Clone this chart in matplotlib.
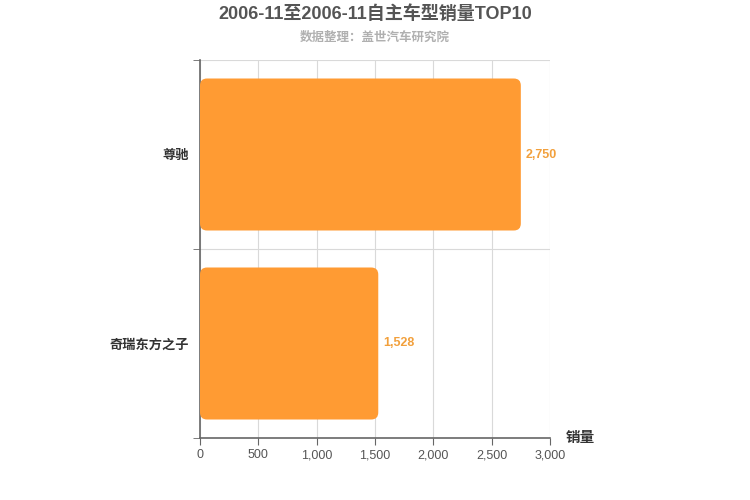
import matplotlib
matplotlib.use('Agg')
import matplotlib.pyplot as plt
from matplotlib.patches import FancyBboxPatch

# data (bottom to top)
models = ['奇瑞东方之子', '尊驰']
sales = [1528, 2750]
x_ticks = [0, 500, 1000, 1500, 2000, 2500, 3000]

title = '2006-11至2006-11自主车型销量TOP10'
subtitle = '数据整理：盖世汽车研究院'

plt.rcParams['font.family'] = ['Liberation Sans', 'Noto Sans CJK SC', 'DejaVu Sans']

bar_color = '#ff9b33'
label_color = '#f2a03c'
axis_color = '#666666'
grid_color = '#d9d9d9'

fig = plt.figure(figsize=(7.5, 5), dpi=100)
ax = fig.add_axes([200 / 750, 1 - 438 / 500, 350 / 750, 378 / 500])

ax.set_xlim(0, 3000)
ax.set_ylim(-0.5, len(models) - 0.5)

# rounded bars, radius about 7px
bar_h = 152 / 189
px_x = 3000 / 350
px_y = len(models) / 378
r = 7 * px_x
for i, v in enumerate(sales):
    p = FancyBboxPatch((0, i - bar_h / 2), v, bar_h,
                       boxstyle='round,pad=0,rounding_size=%f' % r,
                       mutation_aspect=px_y / px_x,
                       facecolor=bar_color, edgecolor='none', zorder=3)
    ax.add_patch(p)
    ax.text(v + 5 * px_x, i, f'{v:,}', va='center', ha='left',
            fontsize=9, fontweight='bold', color=label_color, zorder=4)

ax.set_xticks(x_ticks)
ax.set_xticklabels([f'{t:,}' for t in x_ticks], fontsize=9, color='#555555')
ax.set_yticks(range(len(models)))
ax.set_yticklabels(models, fontsize=9.5, fontweight='bold', color='#333333')
ax.set_yticks([i - 0.5 for i in range(len(models) + 1)], minor=True)

ax.tick_params(axis='y', which='major', length=0, pad=8)
ax.tick_params(axis='y', which='minor', length=5, direction='out', color=axis_color)
ax.tick_params(axis='x', length=5, direction='out', color=axis_color, pad=3)

ax.grid(axis='x', color=grid_color, linewidth=0.8, zorder=0)
ax.grid(axis='y', which='minor', color=grid_color, linewidth=0.8, zorder=0)
ax.set_axisbelow(True)

for s in ['top', 'right']:
    ax.spines[s].set_visible(False)
for s in ['left', 'bottom']:
    ax.spines[s].set_color(axis_color)
    ax.spines[s].set_linewidth(1.2)

fig.text(0.5, 1 - 14 / 500, title, ha='center', va='center',
         fontsize=13, fontweight='bold', color='#555555')
fig.text(0.5, 1 - 38 / 500, subtitle, ha='center', va='center',
         fontsize=9, fontweight='bold', color='#b0b0b0')
fig.text(580 / 750, 1 - 438 / 500, '销量', ha='center', va='center',
         fontsize=10.5, fontweight='bold', color='#333333')

fig.savefig('out.png', dpi=100)
